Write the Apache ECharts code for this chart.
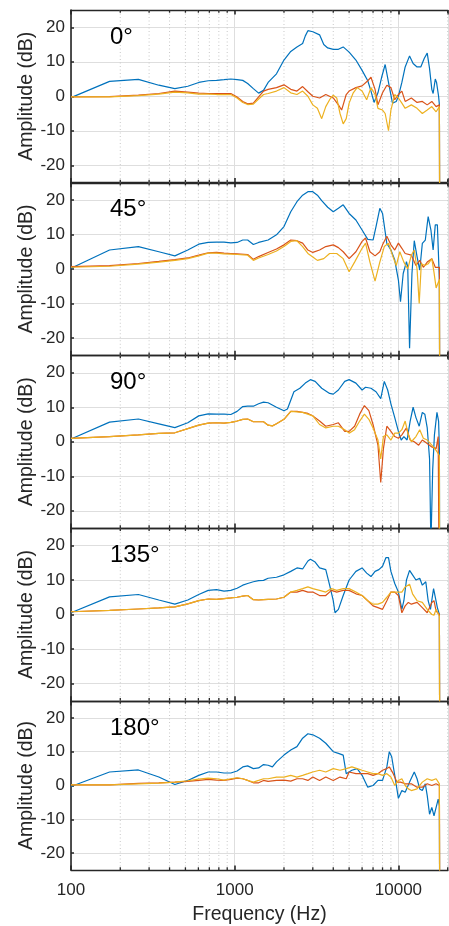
<!DOCTYPE html>
<html>
<head>
<meta charset="utf-8">
<title>Amplitude vs frequency</title>
<style>
  html, body { margin: 0; padding: 0; background: #fff; }
  #chart { width: 449px; height: 926px; }
</style>
</head>
<body>
<div id="chart"></div>
<script src="https://cdn.jsdelivr.net/npm/echarts@6/dist/echarts.min.js"></script>
<script>
// angle of each panel
var panelTitles = ['0°', '45°', '90°', '135°', '180°'];
var yTicks = [-20, -10, 0, 10, 20];
var minorFreqs = [200, 300, 400, 500, 600, 700, 800, 900,
  2000, 3000, 4000, 5000, 6000, 7000, 8000, 9000, 20000];

// [frequency Hz, amplitude dB]
var blue0 = [[100,-0.4],[172,4.3],[258,4.9],[344,3.2],[431,2.2],[517,2.9],[603,4.0],[689,4.5],[775,4.6],[861,4.8],[947,5.0],[1034,4.8],[1120,4.6],[1200,3.7],[1300,2.2],[1400,0.9],[1500,1.7],[1600,4.0],[1800,6.5],[2000,10.5],[2200,13.0],[2400,14.3],[2600,15.3],[2700,17.5],[2800,19.0],[3000,18.7],[3300,17.8],[3500,15.0],[3700,14.0],[4000,13.6],[4300,13.6],[4600,14.3],[5000,12.8],[5500,10.5],[6000,7.5],[6500,4.5],[6800,1.5],[7100,-1.8],[7500,1.0],[7900,5.5],[8300,9.2],[8700,4.0],[9200,-2.0],[9700,-1.5],[10000,0.0],[10500,4.0],[11000,8.5],[11700,11.7],[12300,9.5],[13000,8.5],[13700,8.5],[14400,11.0],[15000,12.5],[15500,8.0],[16000,2.0],[16300,0.8],[16800,5.0],[17100,4.0],[17600,0.0],[17800,-2.5],[17950,-80]];
var red0 = [[100,-0.2],[172,-0.1],[258,0.3],[344,0.8],[431,1.5],[517,1.2],[603,0.9],[689,0.8],[775,0.8],[861,0.8],[947,0.8],[1034,-0.2],[1120,-1.5],[1200,-2.2],[1300,-2.0],[1400,-0.2],[1500,1.5],[1600,2.0],[1800,2.5],[2000,3.3],[2200,2.0],[2400,1.5],[2600,2.8],[2800,1.3],[3000,0.0],[3300,-0.5],[3600,0.5],[4000,-0.5],[4300,-2.5],[4500,-4.0],[4800,0.5],[5000,1.5],[5500,2.5],[6000,3.0],[6500,4.5],[6800,5.5],[7200,2.0],[7500,-2.5],[8000,1.0],[8500,3.2],[9000,2.5],[9500,-1.0],[10000,0.5],[10500,1.5],[11000,-1.5],[12000,-0.5],[13000,-1.8],[14000,-1.5],[15000,-2.5],[16000,-1.5],[17000,-3.0],[17800,-2.5],[17950,-80]];
var yellow0 = [[100,-0.2],[172,-0.2],[258,0.2],[344,0.6],[431,1.2],[517,1.0],[603,0.6],[689,0.6],[775,0.5],[861,0.5],[947,0.5],[1034,-0.5],[1120,-1.8],[1200,-2.4],[1300,-2.3],[1400,-0.8],[1500,0.5],[1600,0.8],[1800,1.5],[2000,2.5],[2200,1.0],[2400,0.5],[2600,1.5],[2800,0.0],[3000,-2.5],[3200,-3.5],[3400,-6.5],[3600,-3.0],[3800,-1.0],[4000,0.3],[4200,-0.5],[4400,-5.0],[4600,-8.0],[4800,-6.5],[5000,-2.0],[5300,1.0],[5600,2.5],[6000,1.5],[6400,-1.0],[6800,2.5],[7200,0.5],[7500,-3.5],[8000,-4.0],[8300,-5.0],[8700,-10.0],[9000,-4.0],[9500,0.5],[10000,-0.5],[10500,-2.0],[11000,-3.5],[12000,-2.5],[13000,-3.5],[14000,-5.0],[15000,-4.0],[16000,-3.0],[17000,-4.5],[17800,-3.0],[17950,-80]];

var blue45 = [[100,0.2],[172,5.5],[258,6.5],[344,5.0],[431,3.8],[517,5.5],[603,7.2],[689,7.7],[775,7.8],[861,7.8],[947,7.6],[1034,7.7],[1120,8.4],[1200,8.4],[1300,7.1],[1400,7.7],[1600,8.4],[1800,9.9],[2000,12.3],[2200,16.6],[2400,19.5],[2600,21.4],[2800,22.4],[3000,22.4],[3200,21.4],[3400,19.8],[3700,17.9],[4000,16.6],[4300,17.6],[4600,18.6],[5000,16.1],[5500,14.2],[6000,11.3],[6500,8.6],[7000,8.4],[7300,12.3],[7700,17.6],[8000,16.1],[8500,7.4],[9000,5.5],[9500,2.6],[10000,-3.2],[10300,-9.5],[10700,-1.3],[11200,2.1],[11400,0.7],[11700,-23],[12100,-1.3],[12500,8.2],[13000,3.6],[13500,-0.3],[14000,7.4],[14600,8.4],[15200,15.2],[15800,11.3],[16300,5.5],[16800,12.8],[17300,12.8],[17800,-3.2],[17950,-80]];
var red45 = [[100,0.7],[172,1.0],[258,1.6],[344,2.2],[431,2.7],[517,3.2],[603,4.0],[689,4.7],[775,4.8],[861,4.6],[947,4.5],[1034,4.4],[1200,4.2],[1300,2.8],[1400,3.6],[1600,4.8],[1800,5.8],[2000,7.0],[2200,8.4],[2400,8.2],[2600,7.5],[2800,5.5],[3000,4.8],[3300,5.5],[3600,6.5],[4000,7.0],[4300,6.2],[4600,5.0],[5000,3.0],[5500,5.0],[6000,8.0],[6300,9.0],[6700,5.0],[7200,3.8],[7700,5.0],[8000,7.0],[8500,9.5],[9000,7.0],[9500,5.5],[10000,7.5],[10500,6.0],[11000,4.5],[12000,4.0],[12800,1.0],[13500,2.5],[14200,0.5],[15000,2.0],[16000,3.0],[16800,0.5],[17800,0.5],[17950,-80]];
var yellow45 = [[100,0.5],[172,0.8],[258,1.4],[344,2.0],[431,2.5],[517,3.0],[603,3.8],[689,4.6],[775,4.6],[861,4.4],[947,4.3],[1034,4.2],[1200,4.0],[1300,2.5],[1400,3.2],[1600,4.2],[1800,5.2],[2000,6.5],[2200,8.0],[2400,8.2],[2600,6.5],[2800,4.5],[3000,3.5],[3200,2.5],[3500,3.0],[3800,4.5],[4200,4.5],[4600,3.0],[5000,-0.8],[5400,2.0],[6000,6.0],[6300,7.5],[6700,2.0],[7200,-3.5],[7700,2.0],[8200,6.5],[8700,7.5],[9200,4.0],[9700,1.0],[10200,5.0],[10800,2.0],[11400,0.0],[12000,4.0],[12500,5.5],[13000,0.0],[13400,-10.0],[13800,1.5],[14500,1.0],[15200,1.5],[16000,3.0],[16500,-1.0],[17000,-5.5],[17800,-3.0],[17950,-80]];

var blue90 = [[100,0.8],[172,5.7],[258,6.6],[344,5.2],[431,4.1],[517,5.5],[603,7.5],[689,8.1],[775,8.0],[861,8.0],[947,7.9],[1034,8.8],[1120,10.2],[1200,10.3],[1300,10.3],[1400,11.0],[1500,11.5],[1600,11.3],[1800,10.0],[2000,9.0],[2100,9.5],[2300,14.5],[2500,15.5],[2700,17.0],[2900,18.0],[3100,17.5],[3400,15.5],[3800,14.0],[4000,13.8],[4300,15.0],[4700,17.5],[5000,18.0],[5500,17.0],[6000,15.0],[6300,15.8],[6800,15.5],[7300,14.5],[7800,12.5],[8200,17.5],[8600,15.0],[9000,11.0],[9500,7.0],[10000,3.0],[10400,0.5],[10800,1.5],[11300,0.5],[11800,6.0],[12300,10.0],[12800,7.0],[13400,4.5],[14000,8.5],[14500,8.0],[15000,4.0],[15500,-5.0],[15800,-30],[16200,-8.0],[16600,2.0],[17200,8.5],[17600,6.0],[17800,-2.0],[17950,-80]];
var red90 = [[100,1.0],[172,1.5],[258,2.0],[344,2.4],[431,2.6],[517,3.8],[603,4.8],[689,5.4],[775,5.5],[861,5.4],[947,5.6],[1034,6.0],[1120,6.5],[1200,6.6],[1300,5.8],[1400,5.8],[1500,5.8],[1600,4.8],[1700,4.6],[1800,5.2],[2000,6.5],[2200,8.8],[2400,8.8],[2600,8.5],[2800,8.2],[3000,7.5],[3300,6.0],[3600,4.5],[4000,5.0],[4300,5.5],[4700,3.0],[5000,3.0],[5400,4.5],[5800,8.0],[6200,10.5],[6600,9.0],[7000,5.0],[7500,-1.0],[7800,-11.8],[8100,-2.0],[8500,4.5],[9000,3.0],[9500,1.5],[10000,1.0],[10500,2.0],[11200,4.0],[11800,0.5],[12500,0.0],[13300,-1.0],[14000,0.5],[15000,-0.5],[16000,-1.5],[17000,-2.0],[17500,1.5],[17800,1.0],[17950,-80]];
var yellow90 = [[100,1.0],[172,1.5],[258,2.0],[344,2.4],[431,2.6],[517,3.8],[603,4.8],[689,5.4],[775,5.5],[861,5.4],[947,5.6],[1034,6.0],[1120,6.5],[1200,6.6],[1300,5.8],[1400,5.8],[1500,5.8],[1600,4.8],[1700,4.6],[1800,5.2],[2000,6.5],[2200,8.8],[2600,8.5],[3000,7.5],[3300,5.0],[3600,4.0],[4000,4.5],[4300,4.5],[4700,3.5],[5000,2.5],[5400,3.5],[5800,6.0],[6200,8.0],[6600,6.5],[7000,4.0],[7500,0.5],[7800,-5.0],[8100,1.5],[8500,2.0],[9000,0.5],[9500,2.5],[10000,2.5],[10500,3.5],[11000,6.0],[11500,2.0],[12000,0.0],[12800,1.5],[13500,3.5],[14200,1.0],[15000,0.5],[16000,-1.0],[17000,-2.5],[17800,-4.0],[17950,-80]];

var blue135 = [[100,0.5],[172,5.1],[258,5.8],[344,4.2],[431,3.0],[517,4.2],[603,5.8],[689,7.0],[775,7.2],[861,6.8],[947,7.0],[1034,7.6],[1120,8.5],[1200,9.0],[1300,9.5],[1400,9.8],[1500,9.9],[1600,10.5],[1800,10.8],[2000,11.5],[2200,12.5],[2400,13.5],[2600,13.2],[2800,15.5],[2900,16.0],[3100,15.2],[3300,13.5],[3600,13.0],[3800,8.5],[4000,4.0],[4100,0.5],[4300,1.5],[4600,5.5],[5000,10.0],[5500,12.5],[6000,13.5],[6400,12.0],[6800,11.0],[7200,12.5],[7600,13.0],[8000,14.0],[8400,16.5],[8700,16.5],[9000,12.5],[9500,9.0],[10000,6.5],[10500,1.5],[10800,4.0],[11200,10.0],[11700,12.8],[12200,11.5],[12800,10.0],[13500,10.5],[14000,8.5],[14700,9.5],[15200,4.0],[15700,1.5],[16400,7.5],[16800,7.0],[17300,2.0],[17800,0.0],[17950,-80]];
var red135 = [[100,0.8],[172,1.2],[258,1.6],[344,1.9],[431,2.2],[517,3.1],[603,4.0],[689,4.5],[775,4.4],[861,4.6],[947,4.8],[1034,5.0],[1120,5.3],[1200,5.5],[1300,4.3],[1400,4.2],[1500,4.3],[1600,4.4],[1800,4.5],[2000,5.0],[2200,6.5],[2400,6.5],[2600,7.0],[2800,6.5],[3000,6.5],[3300,5.5],[3600,5.5],[3900,7.0],[4200,6.5],[4600,7.0],[5000,7.0],[5500,6.0],[6000,5.5],[6500,4.0],[7000,2.5],[7500,2.0],[8000,1.5],[8500,4.0],[9000,6.5],[9500,6.5],[10000,5.5],[10500,0.5],[11000,2.5],[11500,3.5],[12000,3.0],[13000,3.5],[14000,2.0],[15000,0.5],[16000,3.5],[16500,4.0],[17000,1.0],[17800,0.0],[17950,-80]];
var yellow135 = [[100,0.8],[172,1.2],[258,1.6],[344,1.9],[431,2.2],[517,3.1],[603,4.0],[689,4.5],[775,4.4],[861,4.6],[947,4.8],[1034,5.0],[1120,5.3],[1200,5.5],[1300,4.3],[1400,4.2],[1500,4.3],[1600,4.4],[1800,4.5],[2000,5.0],[2200,6.5],[2400,7.0],[2600,7.5],[2800,8.0],[3000,7.5],[3300,7.0],[3600,6.5],[3900,7.5],[4200,7.0],[4600,7.5],[5000,7.5],[5500,6.5],[6000,5.5],[6500,4.0],[7000,3.0],[7500,3.0],[8000,3.5],[8500,5.0],[9000,6.5],[9500,6.5],[10000,6.5],[10500,6.5],[11000,8.0],[11700,8.8],[12200,6.0],[13000,4.0],[14000,3.5],[15000,1.5],[16000,0.0],[16500,-0.2],[17000,1.5],[17800,-0.5],[17950,-80]];

var blue180 = [[100,-0.3],[172,4.0],[258,4.6],[344,2.5],[431,0.3],[517,1.5],[603,3.0],[689,4.0],[775,4.0],[861,3.7],[947,3.7],[1034,4.3],[1120,5.5],[1200,5.8],[1300,5.0],[1400,5.2],[1500,6.2],[1600,6.0],[1700,5.5],[1800,7.0],[2000,9.0],[2200,10.5],[2400,11.5],[2600,14.0],[2800,15.3],[3000,15.0],[3300,14.0],[3600,12.5],[4000,10.0],[4300,9.5],[4600,9.0],[4800,3.5],[5200,4.5],[5600,5.0],[6000,3.0],[6500,-0.5],[7000,0.0],[7500,1.5],[8000,1.5],[8500,5.5],[8800,10.0],[9100,8.5],[9500,3.0],[10000,-3.8],[10500,-1.5],[11000,-2.0],[11700,1.0],[12500,4.0],[13000,2.0],[13500,-1.0],[14000,-1.5],[14600,0.5],[15000,-3.0],[15500,-8.5],[16000,-6.5],[16500,-9.0],[17000,-6.5],[17500,-4.0],[17800,-6.0],[17950,-80]];
var red180 = [[100,0.2],[172,0.2],[258,0.6],[344,0.8],[431,1.0],[517,1.2],[603,1.5],[689,1.8],[775,1.6],[861,1.5],[947,1.8],[1034,2.2],[1120,2.0],[1200,1.5],[1300,0.8],[1400,0.8],[1500,1.5],[1600,1.2],[1800,1.5],[2000,1.6],[2200,1.3],[2400,2.0],[2600,2.0],[2800,1.5],[3000,2.5],[3300,1.5],[3600,2.5],[4000,1.5],[4400,2.5],[4800,2.0],[5000,4.0],[5500,3.5],[6000,3.5],[6500,3.5],[7000,3.0],[7500,3.5],[8000,4.5],[8500,5.0],[8800,5.5],[9300,3.5],[9800,1.0],[10300,1.0],[11000,0.5],[12000,0.5],[13000,-0.5],[14000,-0.5],[15000,0.5],[16000,0.0],[17000,0.5],[17800,0.0],[17950,-80]];
var yellow180 = [[100,0.2],[172,0.2],[258,0.5],[344,0.7],[431,1.0],[517,1.4],[603,1.9],[689,2.2],[775,2.0],[861,1.6],[947,2.0],[1034,2.3],[1120,2.0],[1200,1.5],[1300,1.0],[1400,1.5],[1500,2.0],[1600,2.0],[1800,2.5],[2000,2.5],[2200,3.0],[2400,2.5],[2600,3.0],[2800,3.5],[3000,4.0],[3300,4.5],[3600,4.0],[4000,5.0],[4400,4.5],[4800,5.0],[5200,5.5],[5600,5.0],[6000,4.5],[6500,4.0],[7000,3.5],[7500,3.5],[8000,3.0],[8500,3.5],[9000,2.5],[9500,0.0],[10000,1.5],[10500,2.0],[11000,0.0],[11500,-1.0],[12000,-1.5],[13000,-1.0],[14000,1.0],[15000,2.0],[16000,1.5],[17000,2.0],[17800,0.5],[17950,-80]];

var panels = [
  [blue0, red0, yellow0],
  [blue45, red45, yellow45],
  [blue90, red90, yellow90],
  [blue135, red135, yellow135],
  [blue180, red180, yellow180]
];
var colors = ['#0072BD', '#D95319', '#EDB120'];

var axisColor = '#262626';
var font = '"Liberation Sans", Arial, sans-serif';
var gridLeft = 71, gridWidth = 377, gridTop = 10, gridH = 172.5, gridStep = 172.75;
var xMax = Math.pow(10, 2 + gridWidth / 163.7);

var grids = [], xAxes = [], yAxes = [], series = [], graphics = [];

function minorGrid(params, api) {
  var f = api.value(0);
  var a = api.coord([f, 25]);
  var b = api.coord([f, -25]);
  return {
    type: 'group', children: [
      { type: 'line', shape: { x1: a[0], y1: a[1], x2: b[0], y2: b[1] },
        style: { stroke: '#c8c8c8', lineWidth: 1, lineDash: [1, 2.5] } },
      { type: 'line', shape: { x1: b[0], y1: b[1], x2: b[0], y2: b[1] - 2.7 },
        style: { stroke: axisColor, lineWidth: 1.3 } },
      { type: 'line', shape: { x1: a[0], y1: a[1], x2: a[0], y2: a[1] + 2.7 },
        style: { stroke: axisColor, lineWidth: 1.3 } }
    ]
  };
}

for (var i = 0; i < panels.length; i++) {
  var panelTop = gridTop + i * gridStep;
  var last = i === panels.length - 1;
  grids.push({ left: gridLeft, top: panelTop, width: gridWidth, height: gridH });

  // bottom x axis
  xAxes.push({
    type: 'log', logBase: 10, gridIndex: i, min: 100, max: xMax,
    position: 'bottom',
    axisLine: { show: true, onZero: false, lineStyle: { color: axisColor, width: 1.3 } },
    axisTick: { show: true, inside: true, length: 4.5, lineStyle: { color: axisColor, width: 1.6 } },
    axisLabel: {
      show: last, color: axisColor, fontSize: 17, fontFamily: font, margin: 12,
      showMaxLabel: false,
      formatter: function (v) { return String(Math.round(v)); }
    },
    splitLine: { show: true, lineStyle: { color: '#dedede', width: 1 } },
    name: last ? 'Frequency (Hz)' : '',
    nameLocation: 'middle', nameGap: 35, nameMoveOverlap: false,
    nameTextStyle: { color: axisColor, fontSize: 19.5, fontFamily: font }
  });
  // top x axis, ticks only
  xAxes.push({
    type: 'log', logBase: 10, gridIndex: i, min: 100, max: xMax,
    position: 'top',
    axisLine: { show: true, onZero: false, lineStyle: { color: axisColor, width: 1.3 } },
    axisTick: { show: true, inside: true, length: 4.5, lineStyle: { color: axisColor, width: 1.6 } },
    axisLabel: { show: false },
    splitLine: { show: false }
  });

  yAxes.push({
    type: 'value', gridIndex: i, min: -25, max: 25,
    axisLine: { show: true, onZero: false, lineStyle: { color: axisColor, width: 1.6 } },
    axisTick: { show: true, inside: true, length: 3, customValues: yTicks, lineStyle: { color: axisColor, width: 1.5 } },
    axisLabel: { color: axisColor, fontSize: 17, fontFamily: font, margin: 6, customValues: yTicks },
    splitLine: { show: true, lineStyle: { color: '#dedede', width: 1 } },
    name: 'Amplitude (dB)', nameLocation: 'middle', nameGap: 34, nameMoveOverlap: false,
    nameTextStyle: { color: axisColor, fontSize: 19.5, fontFamily: font }
  });

  // minor decade grid and ticks
  series.push({
    type: 'custom', xAxisIndex: i * 2, yAxisIndex: i, z: 1, silent: true,
    data: minorFreqs.map(function (f) { return [f, 0]; }),
    renderItem: minorGrid
  });

  for (var k = 0; k < 3; k++) {
    series.push({
      type: 'line', xAxisIndex: i * 2, yAxisIndex: i, z: 2 + k,
      data: panels[i][k], showSymbol: false, silent: true,
      lineStyle: { color: colors[k], width: 1.2 },
      clip: true
    });
  }

  // panel angle label, on top of the grid lines
  graphics.push({
    type: 'text', left: 110, top: panelTop + 15, z: 100,
    style: { text: panelTitles[i], fill: '#000', font: '24px ' + font }
  });
}

var chart = echarts.init(document.getElementById('chart'));
chart.setOption({
  animation: false,
  backgroundColor: '#ffffff',
  grid: grids,
  xAxis: xAxes,
  yAxis: yAxes,
  series: series,
  graphic: graphics
});
</script>
</body>
</html>
